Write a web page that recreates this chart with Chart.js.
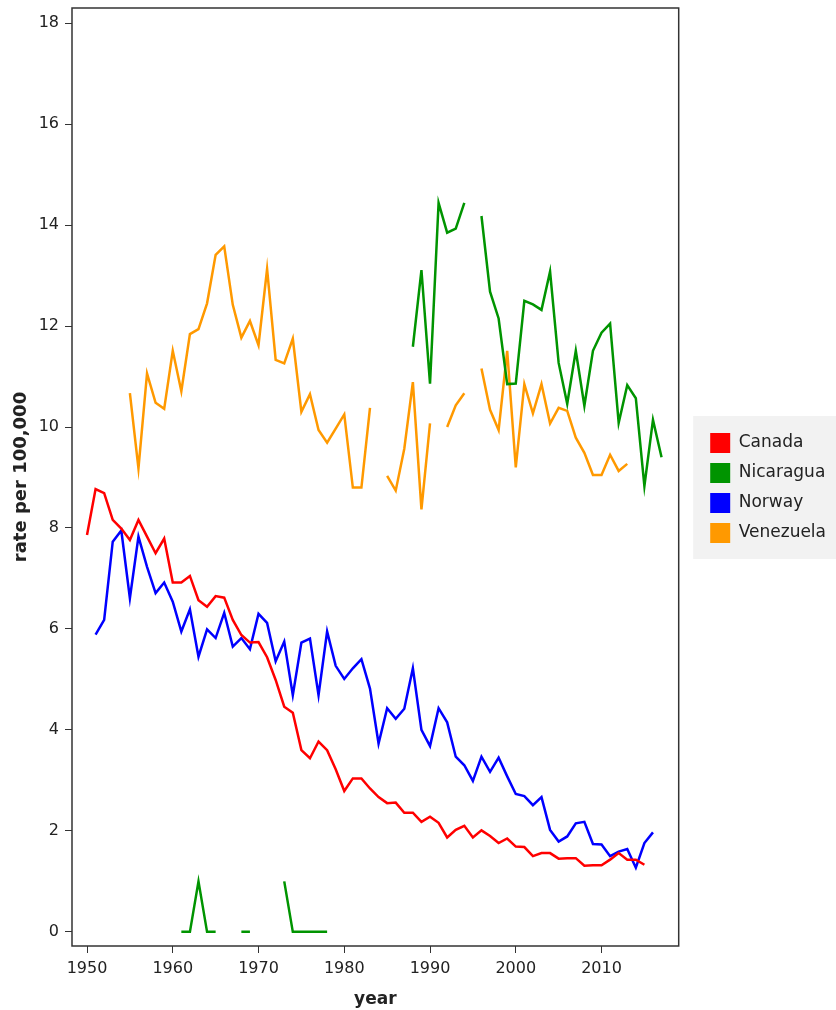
<!DOCTYPE html>
<html>
<head>
<meta charset="utf-8">
<script src="https://cdn.jsdelivr.net/npm/chart.js@4/dist/chart.umd.min.js"></script>
<style>
    html, body { margin: 0; padding: 0; background: #fff; }
    #wrap { width: 836px; height: 1010px; position: relative; }
</style>
</head>
<body>
<div id="wrap"><canvas id="chart" width="836" height="1010"></canvas></div>
<script>
// years covered by the table, 1950 .. 2017
const YEARS = [
    1950, 1951, 1952, 1953, 1954, 1955, 1956, 1957, 1958, 1959,
    1960, 1961, 1962, 1963, 1964, 1965, 1966, 1967, 1968, 1969,
    1970, 1971, 1972, 1973, 1974, 1975, 1976, 1977, 1978, 1979,
    1980, 1981, 1982, 1983, 1984, 1985, 1986, 1987, 1988, 1989,
    1990, 1991, 1992, 1993, 1994, 1995, 1996, 1997, 1998, 1999,
    2000, 2001, 2002, 2003, 2004, 2005, 2006, 2007, 2008, 2009,
    2010, 2011, 2012, 2013, 2014, 2015, 2016, 2017
];

const CANADA = [
    7.86, 8.77, 8.69, 8.16, 7.99, 7.76, 8.16, 7.83, 7.50, 7.79,
    6.92, 6.92, 7.05, 6.57, 6.44, 6.65, 6.62, 6.18, 5.88, 5.73,
    5.74, 5.44, 4.99, 4.46, 4.34, 3.60, 3.44, 3.77, 3.60, 3.22,
    2.79, 3.04, 3.04, 2.84, 2.67, 2.55, 2.56, 2.36, 2.36, 2.18,
    2.28, 2.16, 1.87, 2.02, 2.10, 1.87, 2.01, 1.90, 1.76, 1.85,
    1.69, 1.68, 1.50, 1.56, 1.56, 1.45, 1.46, 1.46, 1.31, 1.32,
    1.32, 1.43, 1.56, 1.43, 1.43, 1.33, null, null
];

const NICARAGUA = [
    null, null, null, null, null, null, null, null, null, null,
    null, 0, 0, 1, 0, 0, null, null, 0, 0,
    null, null, null, 1, 0, 0, 0, 0, 0, null,
    null, null, null, null, null, null, null, null, 11.59, 13.11,
    10.86, 14.44, 13.85, 13.93, 14.44, null, 14.18, 12.68, 12.15, 10.85,
    10.86, 12.50, 12.43, 12.32, 13.08, 11.27, 10.46, 11.51, 10.42, 11.51,
    11.87, 12.05, 10.08, 10.83, 10.57, 8.83, 10.14, 9.40
];

const NORWAY = [
    null, 5.89, 6.18, 7.73, 7.95, 6.61, 7.83, 7.23, 6.71, 6.92,
    6.54, 5.95, 6.39, 5.45, 5.99, 5.82, 6.32, 5.65, 5.82, 5.60,
    6.30, 6.12, 5.36, 5.75, 4.69, 5.73, 5.81, 4.69, 5.95, 5.27,
    5.01, 5.22, 5.40, 4.82, 3.73, 4.43, 4.22, 4.42, 5.22, 4.00,
    3.68, 4.43, 4.15, 3.47, 3.30, 2.99, 3.47, 3.17, 3.45, 3.08,
    2.73, 2.69, 2.51, 2.67, 2.02, 1.79, 1.89, 2.15, 2.18, 1.74,
    1.73, 1.50, 1.59, 1.64, 1.27, 1.76, 1.97, null
];

const VENEZUELA = [
    null, null, null, null, null, 10.67, 9.18, 11.06, 10.48, 10.36,
    11.51, 10.71, 11.84, 11.94, 12.45, 13.41, 13.58, 12.42, 11.77, 12.10,
    11.62, 13.13, 11.33, 11.26, 11.75, 10.30, 10.65, 9.94, 9.69, 9.97,
    10.25, 8.80, 8.80, 10.38, null, 9.03, 8.74, 9.57, 10.89, 8.37,
    10.07, null, 10.00, 10.43, 10.67, null, 11.16, 10.34, 9.94, 11.51,
    9.20, 10.85, 10.27, 10.85, 10.07, 10.38, 10.32, 9.79, 9.49, 9.05,
    9.05, 9.45, 9.13, 9.27, null, null, null, null
];

const X_TICKS = [1950, 1960, 1970, 1980, 1990, 2000, 2010];
const Y_TICKS = [0, 2, 4, 6, 8, 10, 12, 14, 16, 18];

const FONT = "'DejaVu Sans', Verdana, sans-serif";
const TEXT = '#222';
const AXIS = '#333';

const toPoints = vals => YEARS.map((yr, i) => ({ x: yr, y: vals[i] }));

const series = (label, vals, color) => ({
    label,
    data: toPoints(vals),
    borderColor: color,
    backgroundColor: color,
    borderWidth: 2.5,
    pointRadius: 0,
    pointHoverRadius: 0,
    tension: 0,
    spanGaps: false
});

// grey box behind the legend and the frame round the plot
const decorations = {
    id: 'decorations',
    beforeDraw(chart) {
        const hb = chart.legend && chart.legend.legendHitBoxes;
        if (!hb || !hb.length) return;
        const last = hb[hb.length - 1];
        const { ctx } = chart;
        ctx.save();
        ctx.fillStyle = '#f2f2f2';
        const left = hb[0].left - 17;
        const top = hb[0].top - 17;
        ctx.fillRect(left, top, chart.width - left, last.top + last.height + 16 - top);
        ctx.restore();
    },
    afterDraw(chart) {
        const { ctx, chartArea: a } = chart;
        ctx.save();
        ctx.strokeStyle = AXIS;
        ctx.lineWidth = 1.5;
        ctx.strokeRect(a.left, a.top, a.right - a.left, a.bottom - a.top);
        ctx.restore();
    }
};

new Chart(document.getElementById('chart'), {
    type: 'line',
    data: {
        datasets: [
            series('Canada', CANADA, '#ff0000'),
            series('Nicaragua', NICARAGUA, '#009400'),
            series('Norway', NORWAY, '#0000ff'),
            series('Venezuela', VENEZUELA, '#ff9900')
        ]
    },
    options: {
        responsive: false,
        animation: false,
        events: [],
        layout: { padding: { top: 8, left: 0, right: 0, bottom: 0 } },
        scales: {
            x: {
                type: 'linear',
                min: 1948.25,
                max: 2019,
                afterBuildTicks: s => { s.ticks = X_TICKS.map(v => ({ value: v })); },
                afterFit: s => { s.height = 64; s.paddingLeft = 0; s.paddingRight = 0; },
                grid: { display: true, drawOnChartArea: false, drawTicks: true, tickLength: 7, color: AXIS },
                border: { display: false },
                ticks: {
                    color: TEXT,
                    padding: 6,
                    maxRotation: 0,
                    font: { family: FONT, size: 16 },
                    callback: v => String(v)
                },
                title: {
                    display: true,
                    text: 'year',
                    color: TEXT,
                    padding: { top: 4, bottom: 0 },
                    font: { family: FONT, size: 17, weight: 'bold' }
                }
            },
            y: {
                type: 'linear',
                min: -0.28,
                max: 18.3,
                afterBuildTicks: s => { s.ticks = Y_TICKS.map(v => ({ value: v })); },
                afterFit: s => { s.width = 72; s.paddingTop = 0; s.paddingBottom = 0; },
                grid: { display: true, drawOnChartArea: false, drawTicks: true, tickLength: 7, color: AXIS },
                border: { display: false },
                ticks: {
                    color: TEXT,
                    padding: 6,
                    font: { family: FONT, size: 16 }
                },
                title: {
                    display: true,
                    text: 'rate per 100,000',
                    color: TEXT,
                    padding: { top: 11, bottom: 0 },
                    font: { family: FONT, size: 18, weight: 'bold' }
                }
            },
            // empty spacer between the plot and the legend
            gap: {
                type: 'linear',
                position: 'right',
                display: true,
                afterFit: s => { s.width = 21.5; s.paddingTop = 0; s.paddingBottom = 0; },
                grid: { display: false },
                border: { display: false },
                ticks: { display: false }
            }
        },
        plugins: {
            legend: {
                position: 'right',
                fullSize: false,
                align: 'center',
                title: { display: true, text: '', padding: 5, font: { size: 10 } },
                labels: {
                    boxWidth: 20,
                    boxHeight: 20,
                    padding: 10,
                    color: TEXT,
                    font: { family: FONT, size: 17 },
                    generateLabels: chart =>
                        Chart.defaults.plugins.legend.labels.generateLabels(chart)
                            .map(l => ({ ...l, lineWidth: 0 }))
                }
            },
            tooltip: { enabled: false }
        }
    },
    plugins: [decorations]
});
</script>
</body>
</html>
